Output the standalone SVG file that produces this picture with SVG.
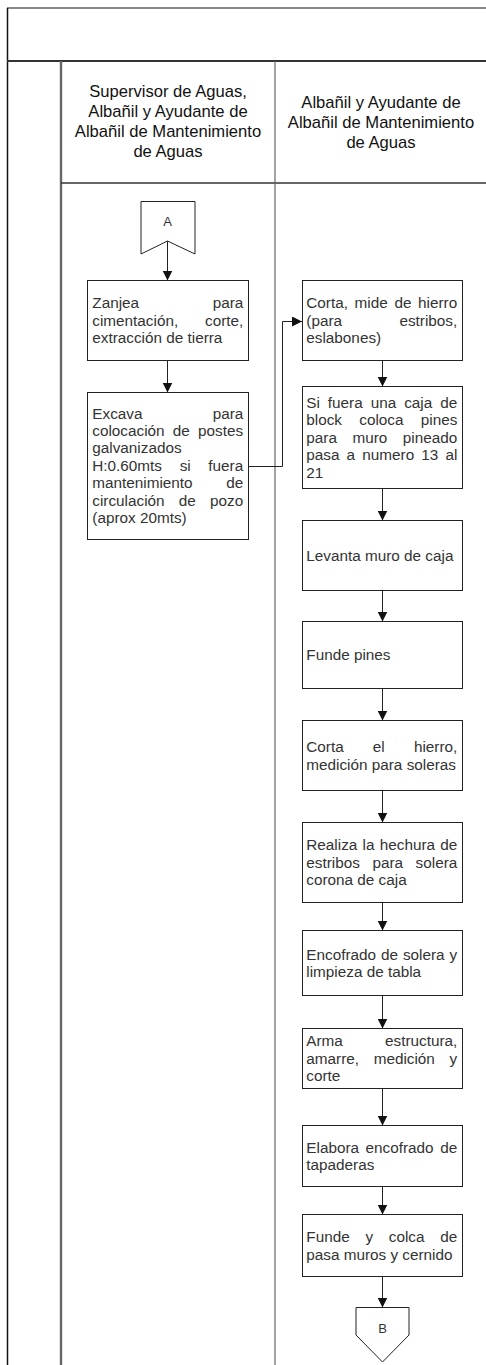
<svg xmlns="http://www.w3.org/2000/svg" width="486" height="1365" viewBox="0 0 486 1365">
<style>
.bx{fill:#fff;stroke:#222;stroke-width:1}
.t{font-family:"Liberation Sans",Arial,sans-serif;font-size:15.3px;fill:#333}
.h{font-family:"Liberation Sans",Arial,sans-serif;font-size:16.6px;fill:#111;text-anchor:middle}
.c{font-family:"Liberation Sans",Arial,sans-serif;font-size:13px;fill:#333;text-anchor:middle}
.ln{fill:none;stroke:#222;stroke-width:1}
</style>
<defs>
<marker id="ah" markerUnits="userSpaceOnUse" markerWidth="11" markerHeight="11" refX="10" refY="5" orient="auto">
<path d="M0,0 L10,5 L0,10 z" fill="#111"/>
</marker>
</defs>
<rect width="486" height="1365" fill="#fff"/>
<g id="frame">
<line x1="7" y1="8" x2="486" y2="8" stroke="#111" stroke-width="1.2"/>
<line x1="7.5" y1="8" x2="7.5" y2="1365" stroke="#111" stroke-width="1.5"/>
<line x1="7" y1="61" x2="486" y2="61" stroke="#333" stroke-width="2"/>
<line x1="61" y1="61" x2="61" y2="1365" stroke="#666" stroke-width="2.4"/>
<line x1="61" y1="183" x2="486" y2="183" stroke="#333" stroke-width="1.3"/>
<line x1="275" y1="61" x2="275" y2="1365" stroke="#666" stroke-width="1.2"/>
</g>
<g id="lane1-header">
<text class="h" x="168" y="97">Supervisor de Aguas,</text>
<text class="h" x="168" y="117">Albañil y Ayudante de</text>
<text class="h" x="168" y="137">Albañil de Mantenimiento</text>
<text class="h" x="168" y="157">de Aguas</text>
</g>
<g id="lane2-header">
<text class="h" x="381" y="107.5">Albañil y Ayudante de</text>
<text class="h" x="381" y="127.5">Albañil de Mantenimiento</text>
<text class="h" x="381" y="147.5">de Aguas</text>
</g>
<g id="connectors">
<path class="ln" d="M167.5,241 V280.5" marker-end="url(#ah)"/>
<path class="ln" d="M167.5,360.5 V392.5" marker-end="url(#ah)"/>
<path class="ln" d="M248,466.5 H282.5 V321.5 H302" marker-end="url(#ah)"/>
<path class="ln" d="M382.5,360.5 V386.5" marker-end="url(#ah)"/>
<path class="ln" d="M382.5,488.5 V520.5" marker-end="url(#ah)"/>
<path class="ln" d="M382.5,590.5 V621.5" marker-end="url(#ah)"/>
<path class="ln" d="M382.5,688.5 V720.5" marker-end="url(#ah)"/>
<path class="ln" d="M382.5,790.5 V822.5" marker-end="url(#ah)"/>
<path class="ln" d="M382.5,902.5 V930.5" marker-end="url(#ah)"/>
<path class="ln" d="M382.5,995.5 V1028.5" marker-end="url(#ah)"/>
<path class="ln" d="M382.5,1088.5 V1125.5" marker-end="url(#ah)"/>
<path class="ln" d="M382.5,1186.5 V1214.5" marker-end="url(#ah)"/>
<path class="ln" d="M382.5,1276.5 V1307.5" marker-end="url(#ah)"/>
</g>
<g id="connA">
<polygon class="bx" points="141,201.5 195,201.5 195,254 167.5,241 141,254"/>
<text class="c" x="167.5" y="226">A</text>
</g>
<g id="box1">
<rect class="bx" x="87.5" y="280.5" width="161" height="80"/>
<text class="t" x="92.3" y="308.4" word-spacing="69.4">Zanjea para</text>
<text class="t" x="92.3" y="325.8" word-spacing="22.6">cimentación, corte,</text>
<text class="t" x="92.3" y="343.2">extracción de tierra</text>
</g>
<g id="box2">
<rect class="bx" x="87.5" y="392.5" width="161" height="147"/>
<text class="t" x="92.3" y="418.5" word-spacing="66">Excava para</text>
<text class="t" x="92.3" y="435.9" word-spacing="4">colocación de postes</text>
<text class="t" x="92.3" y="453.3">galvanizados</text>
<text class="t" x="92.3" y="470.7" word-spacing="13.4">H:0.60mts si fuera</text>
<text class="t" x="92.3" y="488.1" word-spacing="29.4">mantenimiento de</text>
<text class="t" x="92.3" y="505.5" word-spacing="10">circulación de pozo</text>
<text class="t" x="92.3" y="522.9">(aprox 20mts)</text>
</g>
<g id="box3">
<rect class="bx" x="302.5" y="280.5" width="160" height="80"/>
<text class="t" x="306.3" y="308.4" word-spacing="2.4">Corta, mide de hierro</text>
<text class="t" x="306.3" y="325.8" word-spacing="53.2">(para estribos,</text>
<text class="t" x="306.3" y="343.2">eslabones)</text>
</g>
<g id="box4">
<rect class="bx" x="302.5" y="386.5" width="160" height="102"/>
<text class="t" x="306.3" y="408" word-spacing="3.7">Si fuera una caja de</text>
<text class="t" x="306.3" y="425.4" word-spacing="13">block coloca pines</text>
<text class="t" x="306.3" y="442.8" word-spacing="11.3">para muro pineado</text>
<text class="t" x="306.3" y="460.2" word-spacing="2.9">pasa a numero 13 al</text>
<text class="t" x="306.3" y="477.6">21</text>
</g>
<g id="box5">
<rect class="bx" x="302.5" y="520.5" width="160" height="70"/>
<text class="t" x="306.3" y="560.8">Levanta muro de caja</text>
</g>
<g id="box6">
<rect class="bx" x="302.5" y="621.5" width="160" height="67"/>
<text class="t" x="306.3" y="660.3">Funde pines</text>
</g>
<g id="box7">
<rect class="bx" x="302.5" y="720.5" width="160" height="70"/>
<text class="t" x="306.3" y="752.1" word-spacing="24.9">Corta el hierro,</text>
<text class="t" x="306.3" y="769.5">medición para soleras</text>
</g>
<g id="box8">
<rect class="bx" x="302.5" y="822.5" width="160" height="80"/>
<text class="t" x="306.3" y="850.4" word-spacing="1">Realiza la hechura de</text>
<text class="t" x="306.3" y="867.8" word-spacing="8.3">estribos para solera</text>
<text class="t" x="306.3" y="885.2">corona de caja</text>
</g>
<g id="box9">
<rect class="bx" x="302.5" y="930.5" width="160" height="65"/>
<text class="t" x="306.3" y="959.6" word-spacing="0.7">Encofrado de solera y</text>
<text class="t" x="306.3" y="977">limpieza de tabla</text>
</g>
<g id="box10">
<rect class="bx" x="302.5" y="1028.5" width="160" height="60"/>
<text class="t" x="306.3" y="1046.4" word-spacing="37.9">Arma estructura,</text>
<text class="t" x="306.3" y="1063.8" word-spacing="10.4">amarre, medición y</text>
<text class="t" x="306.3" y="1081.2">corte</text>
</g>
<g id="box11">
<rect class="bx" x="302.5" y="1125.5" width="160" height="61"/>
<text class="t" x="306.3" y="1152.6" word-spacing="2.3">Elabora encofrado de</text>
<text class="t" x="306.3" y="1170">tapaderas</text>
</g>
<g id="box12">
<rect class="bx" x="302.5" y="1214.5" width="160" height="62"/>
<text class="t" x="306.3" y="1242.1" word-spacing="11.5">Funde y colca de</text>
<text class="t" x="306.3" y="1259.5">pasa muros y cernido</text>
</g>
<g id="connB">
<polygon class="bx" points="356,1307.5 409,1307.5 409,1335 382.5,1362 356,1335"/>
<text class="c" x="382.5" y="1333">B</text>
</g>
</svg>
